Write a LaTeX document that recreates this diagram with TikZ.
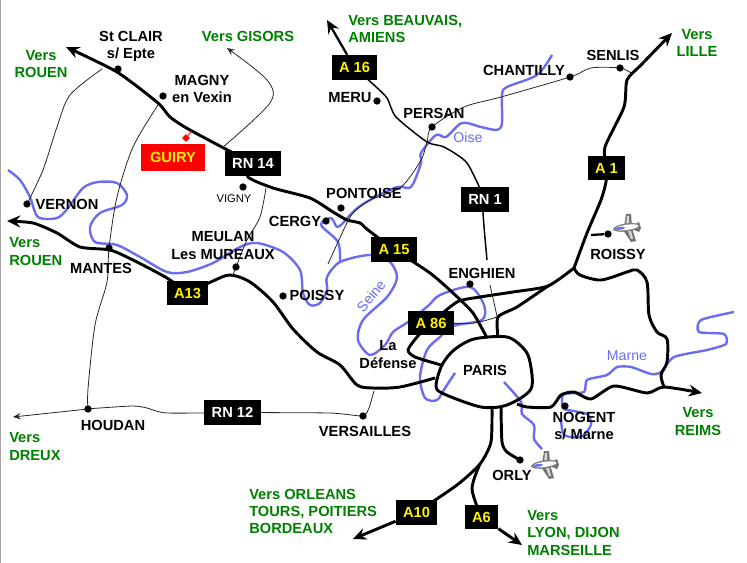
\documentclass[tikz,border=0pt]{standalone}
\usepackage{fontspec}
\setmainfont{Liberation Sans}
\usetikzlibrary{arrows.meta,backgrounds,shapes.geometric}
\colorlet{mygreen}{green!50!black}
\definecolor{myriver}{RGB}{108,108,240}
\tikzset{
  ville/.style={font=\fontsize{11}{12.8}\selectfont\bfseries, align=center, inner sep=0},
  vers/.style={ville, text=mygreen},
  versleft/.style={vers, align=left, anchor=west},
  point/.style={circle, fill=black, inner sep=0, minimum size=5.5pt},
  nationale/.style={ville, fill=black, text=white, minimum width=#1, minimum height=18.5pt},
  autoroute/.style={nationale=#1, text=yellow},
  route/.style={line width=2.2pt, line join=round},
  routefine/.style={line width=0.6pt, black!85},
  routemoy/.style={line width=1.1pt},
  bigtip/.style={-{Stealth[length=10pt, width=9pt, inset=3.5pt]}},
  smalltip/.style={-{Stealth[length=6pt, width=5pt, inset=2.5pt]}},
  riviere/.style={line width=1.8pt, myriver, line join=round},
  nomriviere/.style={font=\fontsize{10.6}{12}\selectfont, text=myriver, inner sep=0},
  avion/.pic={
    \fill[black!55] (-2,-1) -- (0,-14) -- (5,-14) -- (6,-2) -- (7,3) -- (10,13) -- (5,14) -- (-3,2) -- cycle;
    \fill[black!55] (8,-3) -- (13,-6) -- (15,0) -- (13,4) -- (8,2) -- cycle;
    \fill[black!15] (1,-12) -- (3,-12) -- (3,-2) -- (0,-2) -- cycle;
    \fill[black!15] (2,3) -- (5,3) -- (7,11) -- (5,11) -- cycle;
    \fill[black!50, rotate=8] (0.5,-0.5) ellipse (13.5 and 4);
    \fill[white, rotate=8] (1,-0.5) ellipse (11.5 and 2.6);
    \fill[myriver, rotate=8] (-6,-0.5) ellipse (5 and 1.4);
  }
}
\begin{document}
\begin{tikzpicture}[x=0.75pt, y=-0.75pt]
\useasboundingbox (0,0) rectangle (747,563);
\draw[black!35, line width=0.8pt] (0.5,0) -- (0.5,563);
\node[point] (stclair) at (118,69) {};
\node[point] (magny) at (163,96) {};
\node[point] (vernon) at (27,204) {};
\node[point] (mantes) at (109,248) {};
\node[point] (vigny) at (243,187) {};
\node[point] (mureaux) at (236,267) {};
\node[point] (cergy) at (326,221) {};
\node[point] (pontoise) at (341,208) {};
\node[point] (poissy) at (283,296) {};
\node[point] (houdan) at (88,409) {};
\node[point] (versailles) at (363,416) {};
\node[point] (meru) at (377,101) {};
\node[point] (persan) at (432,127) {};
\node[point] (chantilly) at (570,77) {};
\node[point] (senlis) at (620,68) {};
\node[point] (enghien) at (470,284) {};
\node[point] (roissy) at (608,234) {};
\node[point] (nogent) at (565,406) {};
\node[point] (orly) at (520,460) {};
\node[diamond, fill=red, inner sep=0, minimum size=6pt, shape aspect=1] (pguiry) at (186,138) {};
\node[nationale=42pt] (rn14) at (253,163.5) {RN 14};
\node[nationale=36pt] (rn1) at (485,199.5) {RN 1};
\node[nationale=43pt] (rn12) at (232.5,412.5) {RN 12};
\node[autoroute=34pt] (a16) at (354.5,67.5) {A 16};
\node[autoroute=34pt] (a15) at (394,249.5) {A 15};
\node[autoroute=28pt] (a1) at (606.5,168) {A 1};
\node[autoroute=31pt] (a13) at (187.5,293) {A13};
\node[autoroute=34pt] (a86) at (431,323) {A 86};
\node[autoroute=31pt] (a10) at (416.5,512.5) {A10};
\node[autoroute=25pt] (a6) at (481.5,517) {A6};
\node[ville, fill=red, text=yellow, minimum width=48pt, minimum height=20pt] (guiry) at (173,157.5) {GUIRY};
\node[ville] (lstclair) at (131,46) {St CLAIR\\s/ Epte};
\node[ville] (lmagny) at (202,89) {MAGNY\\en Vexin};
\node[ville] (lmeru) at (350,98) {MERU};
\node[ville] (lpersan) at (434,113) {PERSAN};
\node[ville] (lchantilly) at (524,70) {CHANTILLY};
\node[ville] (lsenlis) at (613,55) {SENLIS};
\node[ville] (lvernon) at (67,204) {VERNON};
\node[ville] (lmantes) at (101,268) {MANTES};
\node[ville, font=\fontsize{8.4}{10}\selectfont] (lvigny) at (234,199) {VIGNY};
\node[ville] (lmureaux) at (223,245.5) {MEULAN\\Les MUREAUX};
\node[ville] (lcergy) at (295,221) {CERGY};
\node[ville] (lpontoise) at (364,193) {PONTOISE};
\node[ville] (lpoissy) at (317,295) {POISSY};
\node[ville] (ldefense) at (388,354.5) {La\\Défense};
\node[ville] (lenghien) at (482,273) {ENGHIEN};
\node[ville] (lparis) at (485,370) {PARIS};
\node[ville] (lroissy) at (618,254) {ROISSY};
\node[ville] (lnogent) at (584,426) {NOGENT\\s/ Marne};
\node[ville] (lorly) at (512,475) {ORLY};
\node[ville] (lhoudan) at (113,425) {HOUDAN};
\node[ville] (lversailles) at (365,431) {VERSAILLES};
\node[vers] (vrouen) at (41,64) {Vers\\ROUEN};
\node[vers] (vgisors) at (248,36) {Vers GISORS};
\node[versleft] (vbeauvais) at (348,28.5) {Vers BEAUVAIS,\\AMIENS};
\node[vers] (vlille) at (697,43) {Vers\\LILLE};
\node[versleft] (vrouenb) at (9,251.5) {Vers\\ROUEN};
\node[versleft] (vdreux) at (9,446.5) {Vers\\DREUX};
\node[vers] (vreims) at (698,421.5) {Vers\\REIMS};
\node[versleft] (vorleans) at (249,511.5) {Vers ORLEANS\\TOURS, POITIERS\\BORDEAUX};
\node[versleft] (vlyon) at (527,533) {Vers\\LYON, DIJON\\MARSEILLE};
\node[nomriviere] (loise) at (468,137) {Oise};
\node[nomriviere, rotate=50] (lseine) at (371,296) {Seine};
\node[nomriviere] (lmarne) at (627,356) {Marne};
\pic at (626,228) {avion};
\pic at (544,465) {avion};
\begin{scope}[on background layer]
\coordinate (tiprn) at (66,47);
\coordinate (tipouest) at (7,221);
\coordinate (tipa16) at (327,20);
\coordinate (tiplille) at (672,33);
\coordinate (tipreims) at (702,393);
\coordinate (tipa10) at (353,539);
\coordinate (tipa6) at (522,545);
\coordinate (tipgisors) at (227,48);
\coordinate (tipdreux) at (13,417);
\coordinate (nord) at (574,268);
\coordinate (jonction) at (548,286);
\coordinate (sud) at (480,464);
\coordinate (est) at (664,387);
\draw[riviere] plot[smooth] coordinates {(8,170) (20,180) (30,197) (38,217) (57,218) (68,208) (83,188) (98,182) (117,183) (127,195) (122,205) (100,213) (90,227) (95,242) (117,245) (140,257) (167,272) (187,272) (213,263) (240,247) (257,243) (283,252) (300,270) (303,293) (310,305) (320,303) (327,290) (327,277) (340,262) (370,255) (390,262) (397,278) (387,297) (363,320) (358,340) (370,355) (385,345) (393,332) (408,322) (428,306) (440,295) (470,287) (484,305) (482,320) (453,326) (440,337) (427,350) (420,377) (425,398) (437,400) (445,388) (455,373)};
\draw[riviere] plot[smooth] coordinates {(504,382) (521,402) (522,414) (534,425) (534,439) (542,449)};
\draw[riviere] plot[smooth] coordinates {(552,55) (537,75) (507,87) (502,95) (502,123) (497,130) (481,127) (462,123) (446,137) (436,135) (421,153) (421,163) (411,187) (397,187) (370,200) (355,210) (343,223) (337,227) (331,218) (321,225) (338,242) (340,262)};
\draw[riviere] plot[smooth, tension=0.4] coordinates {(734,312) (701,320) (699,332) (724,334) (726,344) (707,350) (674,357) (661,372) (651,374) (631,367) (617,367) (607,375) (587,380) (584,392) (564,394) (562,402) (564,409) (587,414) (591,425) (581,437) (564,435) (561,419)};
\draw[route, bigtip] plot[smooth, tension=0.4] coordinates {(rn14) (190,130) (170,117) (158,103) (117,72) (tiprn)};
\draw[route] plot[smooth, tension=0.4] coordinates {(rn14) (248,177) (273,188) (310,198) (333,212) (347,220) (360,223) (368,230) (a15)};
\draw[route] plot[smooth, tension=0.4] coordinates {(a15) (430,273) (453,293) (473,313) (487,338)};
\draw[route] plot[smooth cycle, tension=0.5] coordinates {(442,365) (454,350) (474,339) (507,337) (524,349) (530,362) (531,389) (507,405) (481,407) (444,394) (436,386)};
\draw[route, bigtip] plot[smooth, tension=0.4] coordinates {(a1) (605,147) (624,107) (627,80) (641,65) (tiplille)};
\draw[route] plot[smooth, tension=0.4] coordinates {(a1) (606,182) (601,200) (587,233) (nord)};
\draw[route] plot[smooth, tension=0.4] coordinates {(nord) (jonction) (513,292) (480,297) (457,302) (a86)};
\draw[route] plot[smooth, tension=0.4] coordinates {(jonction) (517,307) (498,317) (498,337)};
\draw[route] plot[smooth, tension=0.4] coordinates {(a86) (417,337) (408,350) (415,357) (441,365)};
\draw[route] plot[smooth, tension=0.5] coordinates {(nord) (580,275) (601,280) (627,272) (637,270) (647,282) (649,315) (657,332) (667,339) (667,362) (661,375) (est)};
\draw[route, bigtip] plot[smooth, tension=0.4] coordinates {(517,404) (527,407) (551,407) (561,395) (574,392) (591,399) (614,386) (647,393) (est) (tipreims)};
\draw[route, bigtip] plot[smooth, tension=0.4] coordinates {(a13) (167,278) (133,260) (110,250) (80,247) (57,233) (33,223) (tipouest)};
\draw[route] plot[smooth, tension=0.5] coordinates {(a13) (213,281) (230,275) (250,282) (273,302) (293,329) (317,352) (340,365) (357,385) (373,388) (400,387) (435,378)};
\draw[route] plot[smooth, tension=0.4] coordinates {(492,406) (491,442) (sud) (457,485) (a10)};
\draw[route, bigtip] (a10) -- (tipa10);
\draw[route] plot[smooth, tension=0.5] coordinates {(sud) (472,489) (a6)};
\draw[route, bigtip] (a6) -- (tipa6);
\draw[route] plot[smooth, tension=0.4] coordinates {(501,406) (502,442) (507,452) (orly)};
\draw[route, line width=1.7pt] (591,235) -- (roissy);
\draw[route, bigtip, line width=1.7pt] (a16) -- (tipa16);
\draw[routemoy] plot[smooth, tension=0.4] coordinates {(a16) (374,85) (387,98) (396,117) (427,142) (444,147) (467,163) (rn1)};
\draw[routemoy] plot[smooth] coordinates {(rn1) (483,212) (487,260)};
\draw[routefine] (490,285) -- (497,316);
\draw[routefine] plot[smooth] coordinates {(a86) (473,323) (497,317)};
\draw[routefine] plot[smooth] coordinates {(631,73) (senlis) (591,68) (chantilly) (501,97) (464,107) (persan) (427,142) (421,160) (401,187) (370,200) (353,213) (345,227) (328,264)};
\draw[routefine, smalltip] plot[smooth] coordinates {(222,148) (270,103) (267,80) (tipgisors)};
\draw[routefine] plot[smooth] coordinates {(102,69) (70,95) (57,127) (43,170) (vernon)};
\draw[routefine] plot[smooth] coordinates {(158,105) (133,147) (117,197) (mantes) (107,282) (95,325) (88,389) (houdan)};
\draw[routefine] plot[smooth] coordinates {(266,188) (260,217) (247,240) (mureaux) (233,275)};
\draw[routefine, smalltip] plot[smooth, tension=0.4] coordinates {(rn12) (167,413) (147,408) (133,406) (100,408) (houdan) (tipdreux)};
\draw[routefine] plot[smooth, tension=0.3] coordinates {(rn12) (330,413) (versailles) (369,408) (374,391)};
\draw[red, line width=0.6pt] (pguiry) -- (192,131);
\end{scope}
\end{tikzpicture}
\end{document}
